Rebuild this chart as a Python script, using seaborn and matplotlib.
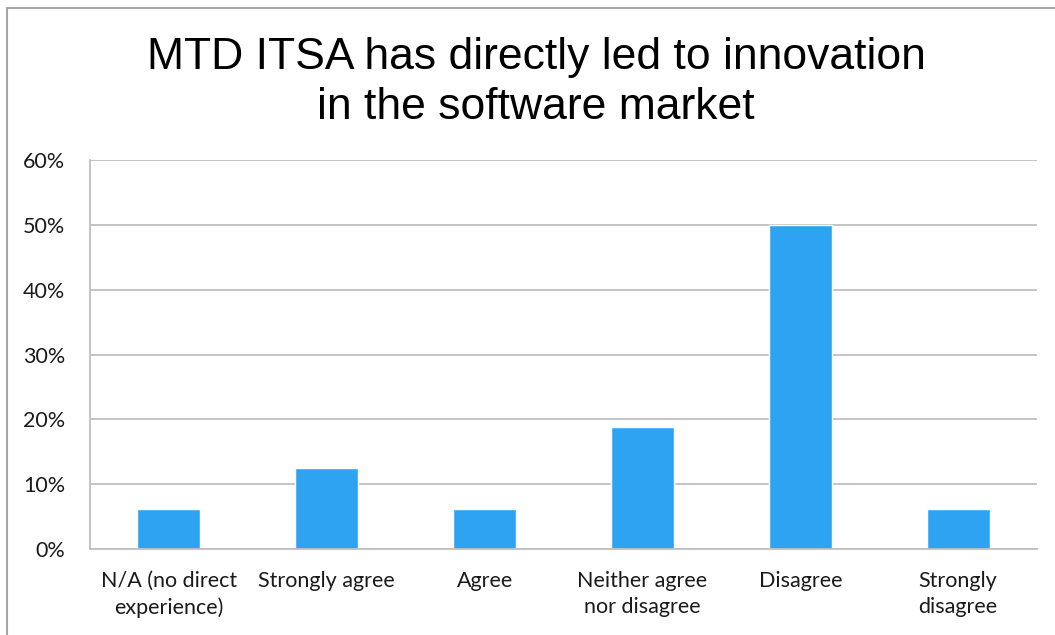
import matplotlib
matplotlib.use("Agg")
import matplotlib.pyplot as plt
from matplotlib.lines import Line2D
from matplotlib.ticker import FuncFormatter, FixedLocator
import seaborn as sns
import pandas as pd

categories = [
    "N/A (no direct\nexperience)",
    "Strongly agree",
    "Agree",
    "Neither agree\nnor disagree",
    "Disagree",
    "Strongly\ndisagree",
]
shares = [0.0625, 0.125, 0.0625, 0.1875, 0.50, 0.0625]
y_ticks = [0.0, 0.1, 0.2, 0.3, 0.4, 0.5, 0.6]
title = "MTD ITSA has directly led to innovation\nin the software market"

sns.set_theme(style="white")
plt.rcParams["font.family"] = ["Lato", "DejaVu Sans"]

df = pd.DataFrame({"response": categories, "share": shares})

fig = plt.figure(figsize=(10.55, 6.35), dpi=100)
ax = fig.add_axes([0.0853, 0.1354, 0.8977, 0.6126])

sns.barplot(data=df, x="response", y="share", color="#2EA3F2",
            saturation=1, width=0.4, ax=ax)

grid_c = "#BFBFBF"
ax.set_ylim(0, 0.6)
ax.set_xlim(-0.5, len(categories) - 0.5)
ax.yaxis.set_major_locator(FixedLocator(y_ticks))
ax.yaxis.set_major_formatter(FuncFormatter(lambda v, _: f"{v * 100:.0f}%"))
ax.grid(axis="y", color=grid_c, linewidth=1.3)
ax.set_axisbelow(True)

for side in ("top", "right"):
    ax.spines[side].set_visible(False)
for side in ("left", "bottom"):
    ax.spines[side].set_color(grid_c)
    ax.spines[side].set_linewidth(1.3)

ax.tick_params(axis="y", which="major", length=8, width=1.3, color=grid_c,
               direction="out", labelsize=15.5, labelcolor="#1a1a1a", pad=10)
ax.tick_params(axis="x", which="major", length=0, labelsize=15.5,
               labelcolor="#1a1a1a", pad=16)
for lbl in ax.get_xticklabels():
    lbl.set_linespacing(1.35)
ax.set_xticks([i - 0.5 for i in range(len(categories) + 1)], minor=True)
ax.tick_params(axis="x", which="minor", length=8, width=1.3, color=grid_c,
               direction="out")
ax.set_xlabel("")
ax.set_ylabel("")

fig.text(0.508, 0.87, title, ha="center", va="center", fontsize=32,
         family=["Liberation Sans", "DejaVu Sans"],
         color="black", linespacing=1.3)

# chart frame
fig.add_artist(Line2D([0.0066, 0.0066], [0.0, 0.987], transform=fig.transFigure,
                      color="#A6A6A6", linewidth=1.5))
fig.add_artist(Line2D([0.0066, 1.0], [0.987, 0.987], transform=fig.transFigure,
                      color="#A6A6A6", linewidth=1.5))

fig.savefig("out.png", dpi=100, facecolor="white")
